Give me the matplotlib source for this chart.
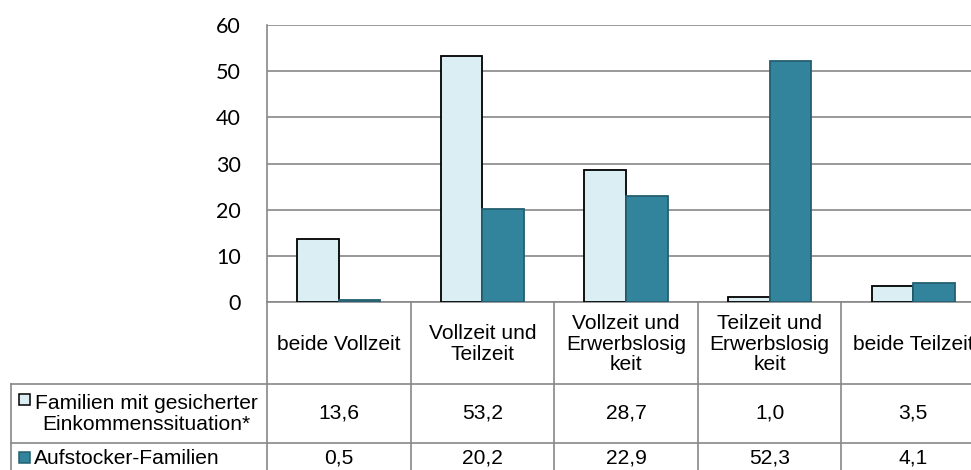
import matplotlib
matplotlib.use("Agg")
import matplotlib.pyplot as plt
import matplotlib.transforms as mtransforms
from matplotlib.patches import Rectangle
from matplotlib.lines import Line2D

categories = ["beide Vollzeit", "Vollzeit und\nTeilzeit", "Vollzeit und\nErwerbslosig\nkeit",
              "Teilzeit und\nErwerbslosig\nkeit", "beide Teilzeit"]
series_names = ["Familien mit gesicherter\nEinkommenssituation*", "Aufstocker-Familien"]
gesichert = [13.6, 53.2, 28.7, 1.0, 3.5]
aufstocker = [0.5, 20.2, 22.9, 52.3, 4.1]
value_labels_1 = ["13,6", "53,2", "28,7", "1,0", "3,5"]
value_labels_2 = ["0,5", "20,2", "22,9", "52,3", "4,1"]
yticks = [0, 10, 20, 30, 40, 50, 60]

W, H = 971, 470
fig = plt.figure(figsize=(W / 100, H / 100), dpi=100)
fig.patch.set_facecolor("white")

def fx(px):
    return px / W

def fy(py):
    return 1 - py / H

cat_w = 143.6
left_px, top_px, bot_px = 267, 25, 302
ax = fig.add_axes([fx(left_px), fy(bot_px), 5 * cat_w / W, (bot_px - top_px) / H])

light = "#DBEEF4"
dark = "#31849B"
grid_c = "#888888"
bw = 0.29
x = list(range(len(categories)))
ax.bar([i - bw / 2 for i in x], gesichert, width=bw, color=light, edgecolor="black", linewidth=1.3, zorder=3)
ax.bar([i + bw / 2 for i in x], aufstocker, width=bw, color=dark, edgecolor="#235F70", linewidth=1.3, zorder=3)

ax.set_xlim(-0.5, 4.5)
ax.set_ylim(0, 60)
ax.set_yticks(yticks)
ax.set_yticklabels([str(t) for t in yticks], fontfamily="Lato", fontsize=15.5)
ax.tick_params(axis="y", length=0, pad=19)
ax.set_xticks([])
ax.grid(axis="y", color=grid_c, linewidth=1.2, zorder=0)
for s in ["top", "right"]:
    ax.spines[s].set_visible(False)
for s in ["left", "bottom"]:
    ax.spines[s].set_color(grid_c)
    ax.spines[s].set_linewidth(1.2)

# data table below the chart
tr = mtransforms.blended_transform_factory(ax.transData, fig.transFigure)
tfont = dict(fontfamily="Liberation Sans", fontsize=15.1, color="black")
row_top, row1, row2, row_end = fy(302), fy(384), fy(443), fy(480)

for b in [k - 0.5 for k in range(len(categories) + 1)]:
    fig.add_artist(Line2D([b, b], [row_top, row_end], transform=tr, color=grid_c, lw=1.2))
for yy in [row1, row2]:
    fig.add_artist(Line2D([fx(11), 1.0], [yy, yy], transform=fig.transFigure, color=grid_c, lw=1.2))
fig.add_artist(Line2D([fx(11), fx(11)], [row1, row_end], transform=fig.transFigure, color=grid_c, lw=1.2))

for i, c in enumerate(categories):
    fig.text(i, fy(344), c, transform=tr, ha="center", va="center", multialignment="center",
             linespacing=1.1, **tfont)
    fig.text(i, fy(413), value_labels_1[i], transform=tr, ha="center", va="center", **tfont)
    fig.text(i, fy(458), value_labels_2[i], transform=tr, ha="center", va="center", **tfont)

fig.text(fx(146.5), fy(414), series_names[0], ha="center", va="center", multialignment="center",
         linespacing=1.1, **tfont)
fig.text(fx(34), fy(458), series_names[1], ha="left", va="center", **tfont)
fig.add_artist(Rectangle((fx(18.5), fy(405)), fx(11.5), 11 / H, transform=fig.transFigure,
                         facecolor=light, edgecolor="black", lw=1.1))
fig.add_artist(Rectangle((fx(18.5), fy(463)), fx(11.5), 11 / H, transform=fig.transFigure,
                         facecolor=dark, edgecolor="#235F70", lw=1.1))

fig.savefig("out.png", dpi=100)
